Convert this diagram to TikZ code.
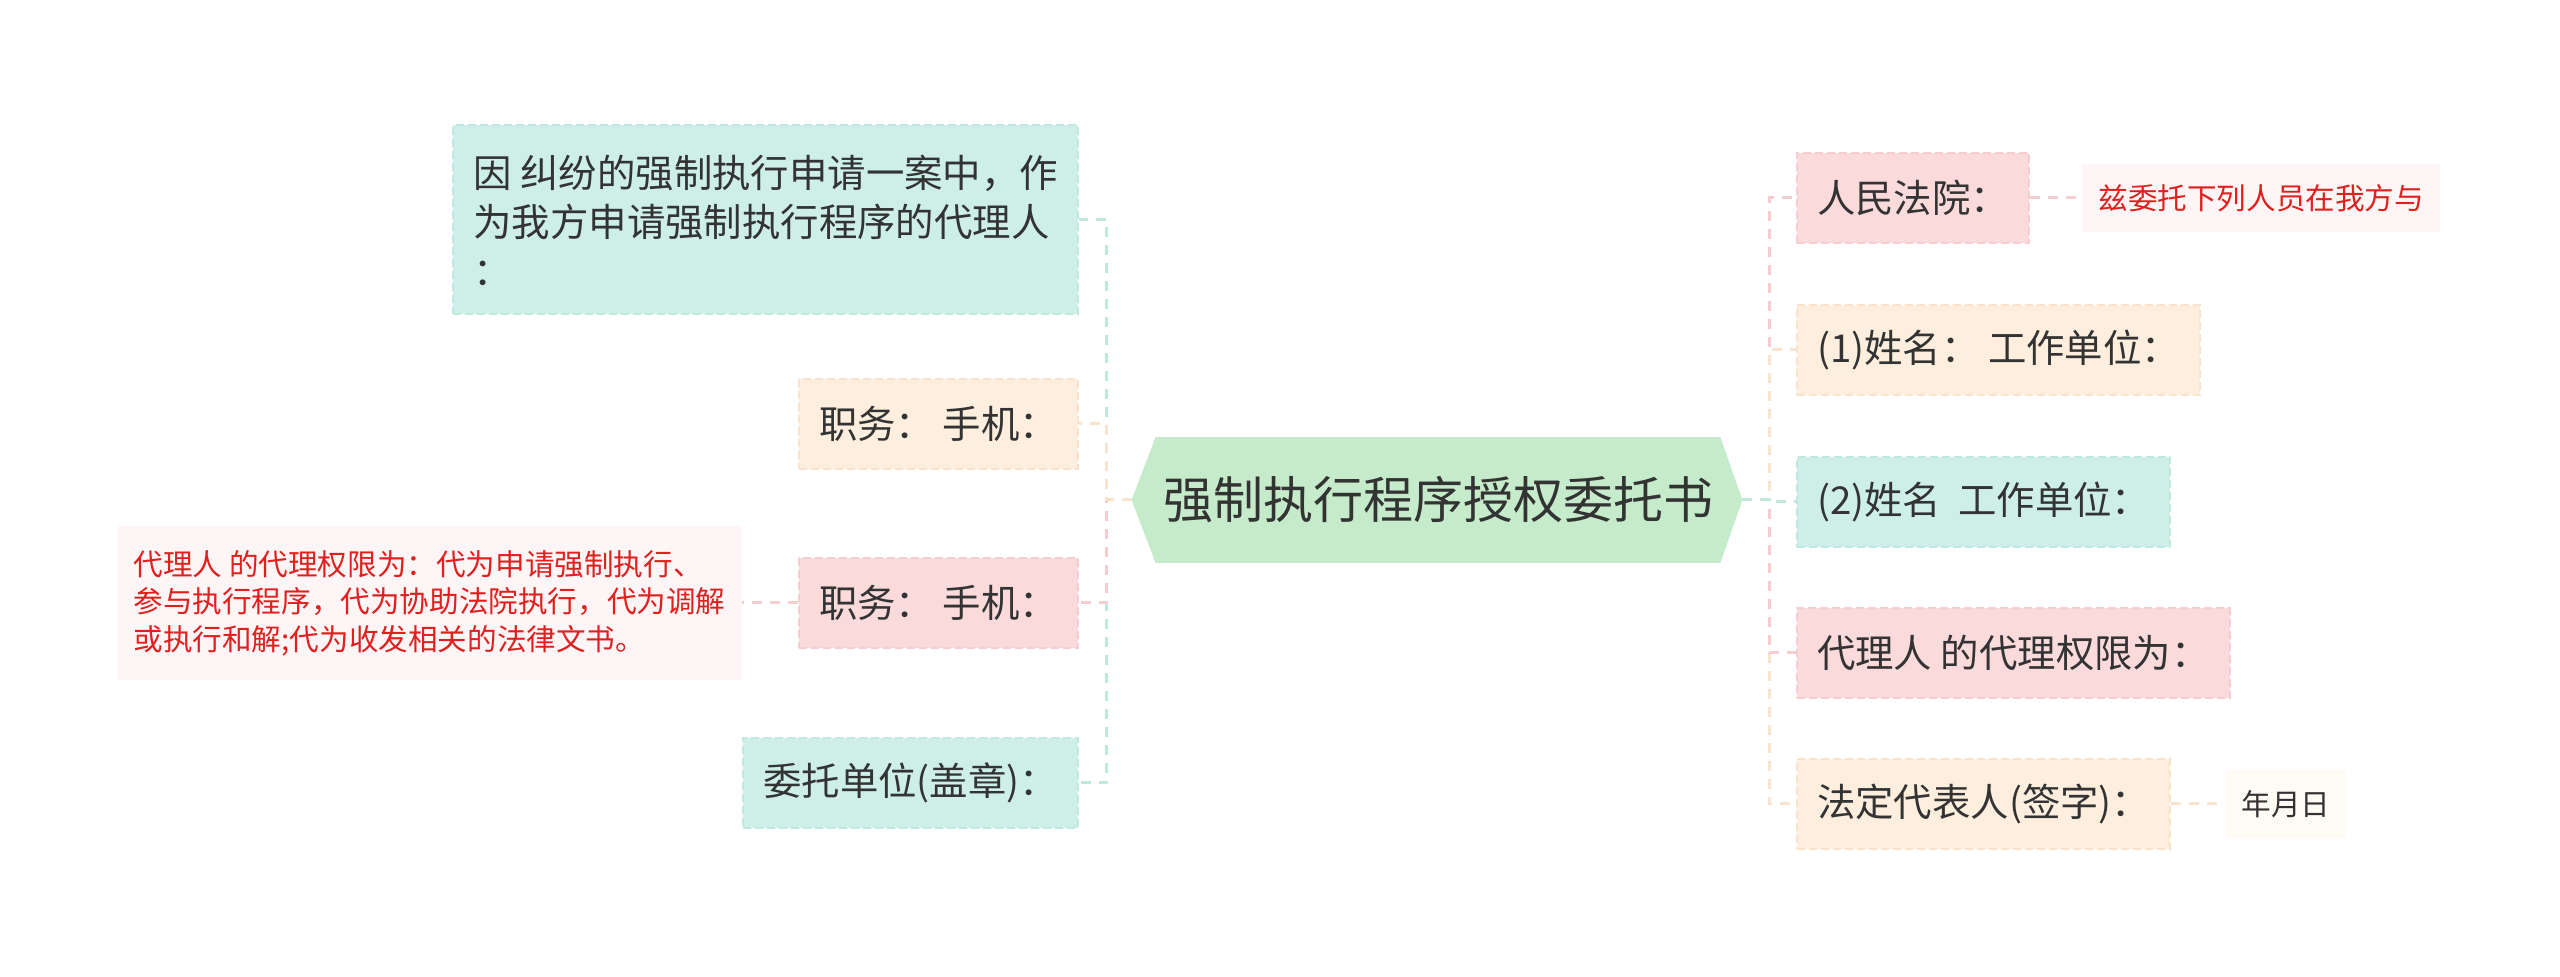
\documentclass[tikz,border=0pt]{standalone}
\usepackage{fontspec}
\setmainfont{Noto Sans CJK SC}
\usetikzlibrary{positioning,backgrounds}
\definecolor{RootGreen}{HTML}{C5EBCA}
\definecolor{TopicTeal}{HTML}{CDEFE8}
\definecolor{TopicTealEdge}{HTML}{BFE8DF}
\definecolor{TopicPeach}{HTML}{FDEEDE}
\definecolor{TopicPeachEdge}{HTML}{FAE3CC}
\definecolor{TopicPink}{HTML}{FADADB}
\definecolor{TopicPinkEdge}{HTML}{F6CDCF}
\definecolor{NoteRose}{HTML}{FEF6F6}
\definecolor{NoteCream}{HTML}{FEFAF4}
\definecolor{NoteRed}{HTML}{E0201F}
\definecolor{TextGray}{HTML}{333333}

\begin{document}
\begin{tikzpicture}[x=0.5pt,y=-0.5pt,
  topic/.style={fill=#1,draw=#1Edge,line width=1pt,dash pattern=on 4pt off 2pt,
    text=TextGray,font=\fontsize{19.2}{24.5}\selectfont,align=left,
    inner xsep=10pt,inner ysep=0pt,minimum height=45pt},
  note/.style={fill=#1,text=NoteRed,font=\fontsize{14.8}{18.75}\selectfont,
    align=left,inner xsep=8pt,inner ysep=10pt},
  link/.style={draw=#1,line width=1.5pt,dash pattern=on 5pt off 4pt}]
  \useasboundingbox (0,0) rectangle (2560,977);

  % central topic
  \node[font=\fontsize{25}{30}\selectfont,text=TextGray,minimum width=282pt,
    minimum height=62.5pt,inner sep=0pt] (root) at (1438,500) {强制执行程序授权委托书};
  \coordinate (rootL) at ([xshift=-12pt]root.west);
  \coordinate (rootR) at ([xshift=11pt]root.east);

  % left branch
  \node[topic=TopicTeal,anchor=east,minimum height=94.5pt] (duty) at (1079,220)
    {因 纠纷的强制执行申请一案中，作\\为我方申请强制执行程序的代理人\\：};
  \node[topic=TopicPeach,anchor=east] (post1) at (1079,424) {职务： 手机：};
  \node[topic=TopicPink,anchor=east] (post2) at (1079,603) {职务： 手机：};
  \node[topic=TopicTeal,anchor=east] (seal) at (1079,783) {委托单位(盖章)：};
  \node[note=NoteRose,left=28pt of post2,inner ysep=12pt] (scope)
    {代理人 的代理权限为：代为申请强制执行、\\参与执行程序，代为协助法院执行，代为调解\\或执行和解;代为收发相关的法律文书。};

  % right branch
  \node[topic=TopicPink,anchor=west] (court) at (1796,198) {人民法院：};
  \node[topic=TopicPeach,anchor=west] (agent1) at (1796,350) {(1)姓名： 工作单位：};
  \node[topic=TopicTeal,anchor=west] (agent2) at (1796,502) {(2)姓名~~工作单位：};
  \node[topic=TopicPink,anchor=west] (limit) at (1796,653) {代理人 的代理权限为：};
  \node[topic=TopicPeach,anchor=west] (sign) at (1796,804) {法定代表人(签字)：};
  \node[note=NoteRose,right=26pt of court] (entrust) {兹委托下列人员在我方与};
  \node[note=NoteCream,text=TextGray,right=27pt of sign] (date) {年月日};

  \begin{scope}[on background layer]
    \fill[RootGreen] (root.north west) -- (root.north east) -- (rootR)
      -- (root.south east) -- (root.south west) -- (rootL) -- cycle;
    \draw[link=TopicTealEdge] (rootL) -- ++(-25,0) |- (duty.east);
    \draw[link=TopicTealEdge] (rootL) -- ++(-25,0) |- (seal.east);
    \draw[link=TopicPinkEdge] (rootL) -- ++(-25,0) |- (post2.east);
    \draw[link=TopicPeachEdge] (rootL) -- ++(-25,0) |- (post1.east);
    \draw[link=TopicPinkEdge] (rootR) -- ++(27,0) |- (court.west);
    \draw[link=TopicPeachEdge] (rootR) -- ++(27,0) |- (sign.west);
    \draw[link=TopicPeachEdge] (rootR) -- ++(27,0) |- (agent1.west);
    \draw[link=TopicPinkEdge] (rootR) -- ++(27,0) |- (limit.west);
    \draw[link=TopicTealEdge] (rootR) -- ++(27,0) |- (agent2.west);
    \draw[link=TopicPinkEdge] (post2.west) -- (scope.east);
    \draw[link=TopicPinkEdge] (court.east) -- (entrust.west);
    \draw[link=TopicPeachEdge] (sign.east) -- (date.west);
  \end{scope}
\end{tikzpicture}
\end{document}
